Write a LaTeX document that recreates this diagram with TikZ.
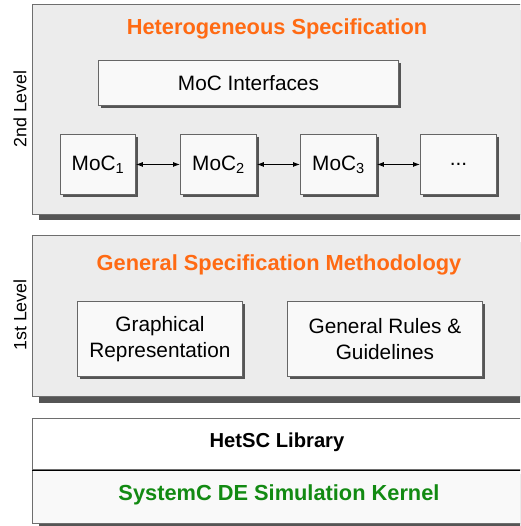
\documentclass[tikz,border=0pt]{standalone}
\usepackage{fontspec}
\setmainfont{Liberation Sans}
\usetikzlibrary{shadows,arrows.meta}
\definecolor{orangeT}{HTML}{FF6A13}
\definecolor{greenT}{HTML}{128A12}
\definecolor{outerfill}{HTML}{ECECEC}
\definecolor{innerfill}{HTML}{F9F9F9}
\definecolor{shadowgray}{HTML}{555555}
\definecolor{bordergray}{HTML}{6E6E6E}
\begin{document}
\begin{tikzpicture}[x=1pt,y=-1pt,
  outerbox/.style={draw=bordergray, line width=1pt, fill=outerfill, anchor=north west, inner sep=0pt,
    drop shadow={shadow xshift=6pt, shadow yshift=-6pt, fill=shadowgray, opacity=1}},
  innerbox/.style={draw=shadowgray!90, line width=0.9pt, fill=innerfill, anchor=north west, inner sep=0pt, align=center,
    font=\fontsize{20.8}{26}\selectfont,
    drop shadow={shadow xshift=3pt, shadow yshift=-3pt, fill=shadowgray, opacity=1}},
  titletext/.style={font=\fontsize{21.8}{26}\selectfont\bfseries, text=orangeT},
  leveltext/.style={font=\fontsize{17.8}{22}\selectfont, rotate=90},
  conn/.style={{Latex[length=7pt,width=5pt]}-{Latex[length=7pt,width=5pt]}, line width=0.8pt, black}
]
\useasboundingbox (0,0) rectangle (520,526);
\clip (0,0) rectangle (520,526);

% Level 2
\node[outerbox, minimum width=492pt, minimum height=210pt] (lvl2) at (32,4) {};
\node[titletext] (t2) at (277,29) {Heterogeneous Specification};
\node[innerbox, minimum width=300pt, minimum height=45pt] (mi) at (98,60) {MoC Interfaces};
\node[innerbox, minimum width=75pt, minimum height=60pt] (m1) at (60,134) {MoC\textsubscript{1}};
\node[innerbox, minimum width=76pt, minimum height=60pt] (m2) at (180,134) {MoC\textsubscript{2}};
\node[innerbox, minimum width=76pt, minimum height=60pt] (m3) at (300,134) {MoC\textsubscript{3}};
\node[innerbox, minimum width=76pt, minimum height=60pt] (m4) at (420,134) {...};
\draw[conn] (m1.east) -- (m2.west);
\draw[conn] (m2.east) -- (m3.west);
\draw[conn] (m3.east) -- (m4.west);
\node[leveltext] (l2) at (20,109) {2nd Level};

% Level 1
\node[outerbox, minimum width=492pt, minimum height=161pt] (lvl1) at (32,235) {};
\node[titletext] (t1) at (279,265) {General Specification Methodology};
\node[innerbox, minimum width=165pt, minimum height=75pt] (gr) at (77,301) {Graphical\\Representation};
\node[innerbox, minimum width=195pt, minimum height=75pt] (rules) at (287,301) {General Rules \&\\Guidelines};
\node[leveltext] (l1) at (20,315) {1st Level};

% Bottom
\node[draw=bordergray, line width=1pt, fill=innerfill, anchor=north west, inner sep=0pt,
  minimum width=492pt, minimum height=54pt,
  drop shadow={shadow xshift=6pt, shadow yshift=-4pt, fill=shadowgray, opacity=1}] (kernel) at (32,469) {};
\node[draw=bordergray, line width=1pt, fill=white, anchor=north west, inner sep=0pt,
  minimum width=492pt, minimum height=51pt] (lib) at (32,418) {};
\draw[black, line width=1pt] (lib.south west) -- (lib.south east);
\node[font=\fontsize{20.2}{24}\selectfont\bfseries] (libt) at (277,442) {HetSC Library};
\node[font=\fontsize{21.8}{24}\selectfont\bfseries, text=greenT] (kt) at (279,495) {SystemC DE Simulation Kernel};
\end{tikzpicture}
\end{document}
